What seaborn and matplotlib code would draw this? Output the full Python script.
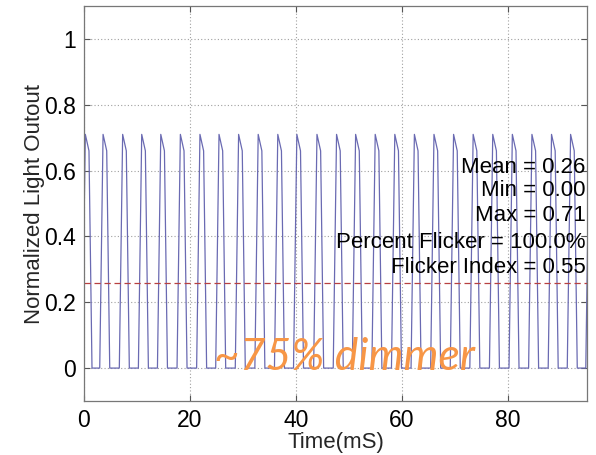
import numpy as np
import pandas as pd
import matplotlib
matplotlib.use("Agg")
import matplotlib.pyplot as plt
import seaborn as sns

# Peak times of the PWM light pulses (ms)
peak_times = [0.25, 3.6, 7.3, 10.9, 14.5, 18.2, 21.9, 25.5, 29.2, 32.9, 36.6,
              40.2, 44.0, 47.7, 51.3, 55.0, 58.7, 62.4, 66.1, 69.8, 73.5,
              77.2, 80.9, 84.6, 88.3, 91.9, 95.4]
# Shape of one pulse: time offsets from the peak (ms) and light levels
pulse_offsets = [-0.63, 0.0, 0.69, 1.26]
pulse_levels = [0.0, 0.71, 0.66, 0.0]

# Summary statistics shown on the chart
mean_value = 0.26
min_value = 0.00
max_value = 0.71
percent_flicker = 100.0
flicker_index = 0.55

x_ticks = [0, 20, 40, 60, 80]
y_ticks = [0, 0.2, 0.4, 0.6, 0.8, 1]

# Assemble the light-output trace from the pulses
t_vals, v_vals = [], []
for p in peak_times:
    for off, lev in zip(pulse_offsets, pulse_levels):
        t_vals.append(p + off)
        v_vals.append(lev)
trace = pd.DataFrame({"time": t_vals, "light": v_vals})

sns.set_theme(style="white")
plt.rcParams["font.family"] = ["Liberation Sans", "DejaVu Sans"]

fig = plt.figure(figsize=(5.96, 4.55), dpi=100)
ax = fig.add_axes([84 / 596, 1 - 401 / 455, 503 / 596, 395 / 455])

sns.lineplot(data=trace, x="time", y="light", ax=ax, sort=False,
             estimator=None, color="#6a6ab2", linewidth=0.9)
ax.axhline(mean_value, color="#b84040", linestyle=(0, (5, 3)), linewidth=0.9)

ax.set_xlim(0, 95)
ax.set_ylim(-0.1, 1.1)
ax.set_xticks(x_ticks)
ax.set_yticks(y_ticks)
ax.set_xticklabels([f"{v:g}" for v in x_ticks])
ax.set_yticklabels([f"{v:g}" for v in y_ticks])
ax.grid(True, linestyle=(0, (1, 2)), color="#a0a0a0", linewidth=0.8)
ax.tick_params(direction="in", length=4, width=0.8, colors="#555555",
               labelcolor="black", labelsize=16.5, top=True, right=True,
               bottom=True, left=True, pad=6)
for s in ax.spines.values():
    s.set_color("#777777")
    s.set_linewidth(0.9)

ax.set_xlabel("Time(mS)", fontsize=16, labelpad=0)
ax.set_ylabel("Normalized Light Outout", fontsize=16, labelpad=-1)

stats_lines = [
    (f"Mean = {mean_value:.2f}", 0.61),
    (f"Min = {min_value:.2f}", 0.54),
    (f"Max = {max_value:.2f}", 0.463),
    (f"Percent Flicker = {percent_flicker:.1f}%", 0.381),
    (f"Flicker Index = {flicker_index:.2f}", 0.305),
]
for txt, yv in stats_lines:
    ax.text(94.7, yv, txt, ha="right", va="center", fontsize=16, color="black")

fig.text(345 / 596, 1 - 357 / 455, "~75% dimmer", ha="center", va="center",
         fontsize=32, style="italic", color="#f79646",
         family=["Lato", "DejaVu Sans"])

fig.savefig("out.png", dpi=100)
